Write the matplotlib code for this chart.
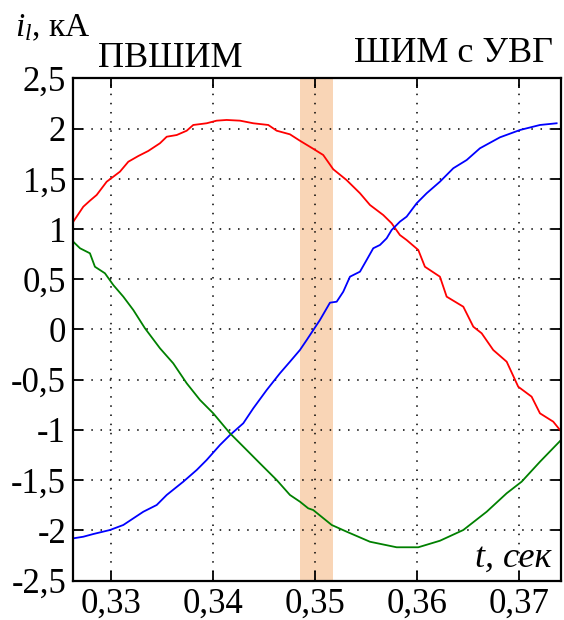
import numpy as np
import matplotlib
matplotlib.use("Agg")
import matplotlib.pyplot as plt

plt.rcParams['font.family'] = ['Liberation Serif', 'DejaVu Serif']
plt.rcParams['mathtext.fontset'] = 'custom'
plt.rcParams['mathtext.rm'] = 'Liberation Serif'
plt.rcParams['mathtext.it'] = 'Liberation Serif:italic'

# phase currents, kA
t_red = [0.32631, 0.32729, 0.32794, 0.32860, 0.32958, 0.33088, 0.33170, 0.33268, 0.33365,
         0.33480, 0.33546, 0.33644, 0.33742, 0.33806, 0.33937, 0.34035, 0.34133, 0.34264,
         0.34394, 0.34541, 0.34623, 0.34753, 0.34851, 0.34981, 0.35079, 0.35177, 0.35307,
         0.35439, 0.35537, 0.35667, 0.35749, 0.35830, 0.35896, 0.36010, 0.36075, 0.36222,
         0.36288, 0.36451, 0.36549, 0.36631, 0.36744, 0.36876, 0.36989, 0.37120, 0.37202,
         0.37332, 0.37424]
i_red = [1.074, 1.223, 1.283, 1.340, 1.472, 1.572, 1.671, 1.728, 1.778,
         1.855, 1.920, 1.937, 1.980, 2.037, 2.054, 2.080, 2.087, 2.080,
         2.054, 2.037, 1.980, 1.944, 1.880, 1.800, 1.738, 1.596, 1.489,
         1.357, 1.240, 1.140, 1.058, 0.941, 0.891, 0.792, 0.625, 0.526,
         0.327, 0.227, 0.028, -0.038, -0.204, -0.321, -0.570, -0.669, -0.835,
         -0.918, -1.034]

t_blue = [0.32631, 0.32729, 0.32827, 0.32990, 0.33121, 0.33317, 0.33448, 0.33546, 0.33708,
          0.33840, 0.33937, 0.34068, 0.34166, 0.34296, 0.34394, 0.34525, 0.34655, 0.34753,
          0.34851, 0.34917, 0.35047, 0.35145, 0.35211, 0.35275, 0.35341, 0.35439, 0.35504,
          0.35569, 0.35635, 0.35700, 0.35749, 0.35830, 0.35896, 0.35994, 0.36092, 0.36222,
          0.36353, 0.36484, 0.36614, 0.36810, 0.37006, 0.37202, 0.37365]
i_blue = [-2.080, -2.064, -2.037, -1.997, -1.947, -1.815, -1.748, -1.648, -1.516,
          -1.399, -1.300, -1.150, -1.051, -0.934, -0.785, -0.603, -0.436, -0.321,
          -0.204, -0.105, 0.095, 0.267, 0.277, 0.376, 0.526, 0.576, 0.692,
          0.809, 0.842, 0.908, 0.991, 1.074, 1.124, 1.257, 1.357, 1.472,
          1.606, 1.688, 1.805, 1.914, 1.987, 2.037, 2.054]

t_green = [0.32631, 0.32697, 0.32794, 0.32843, 0.32941, 0.33023, 0.33121, 0.33219, 0.33333,
           0.33480, 0.33610, 0.33742, 0.33872, 0.34002, 0.34166, 0.34329, 0.34459, 0.34623,
           0.34753, 0.34851, 0.34932, 0.34981, 0.35162, 0.35309, 0.35537, 0.35798, 0.36010,
           0.36222, 0.36451, 0.36680, 0.36876, 0.37022, 0.37202, 0.37424]
i_green = [0.874, 0.809, 0.759, 0.625, 0.560, 0.443, 0.327, 0.194, 0.012,
           -0.187, -0.337, -0.536, -0.702, -0.835, -1.034, -1.200, -1.333, -1.499,
           -1.648, -1.715, -1.781, -1.798, -1.947, -2.014, -2.114, -2.169, -2.169,
           -2.104, -1.997, -1.815, -1.631, -1.516, -1.317, -1.084]

band = (0.3485, 0.3517)   # switching interval
xticks = [0.33, 0.34, 0.35, 0.36, 0.37]
xlabels = ["0,33", "0,34", "0,35", "0,36", "0,37"]
yticks = [-2.5, -2, -1.5, -1, -0.5, 0, 0.5, 1, 1.5, 2, 2.5]
ylabels = ["-2,5", "-2", "-1,5", "-1", "-0,5", "0", "0,5", "1", "1,5", "2", "2,5"]

fig = plt.figure(figsize=(5.64, 6.2), dpi=100)
ax = fig.add_axes([0.1294, 0.0637, 0.8653, 0.8097])

ax.axvspan(band[0], band[1], color='#f9d5b6', lw=0, zorder=0)
ax.plot(t_red, i_red, color='#ff0000', lw=1.3)
ax.plot(t_blue, i_blue, color='#0000ff', lw=1.3)
ax.plot(t_green, i_green, color='#008000', lw=1.3)

ax.set_xlim(0.32628, 0.37408)
ax.set_ylim(-2.5, 2.5)
ax.set_xticks(xticks)
ax.set_xticklabels(xlabels)
ax.set_yticks(yticks)
ax.set_yticklabels(ylabels)
ax.tick_params(direction='in', length=7, width=1.3, labelsize=25,
               top=True, right=True, pad=5)
ax.grid(True, color='black', linestyle=(0, (1, 5)), linewidth=1.1)
for s in ax.spines.values():
    s.set_linewidth(1.6)

fig.text(0.027, 0.942, r"$i_l$, кА", fontsize=24, va='baseline')
fig.text(0.174, 0.892, "ПВШИМ", fontsize=26, va='baseline')
fig.text(0.981, 0.9, "ШИМ с УВГ", fontsize=26, va='baseline', ha='right')
ax.text(0.98, 0.027, "t, сек", fontsize=26, style='italic', ha='right',
        va='baseline', transform=ax.transAxes)

fig.savefig("out.png", dpi=100)
